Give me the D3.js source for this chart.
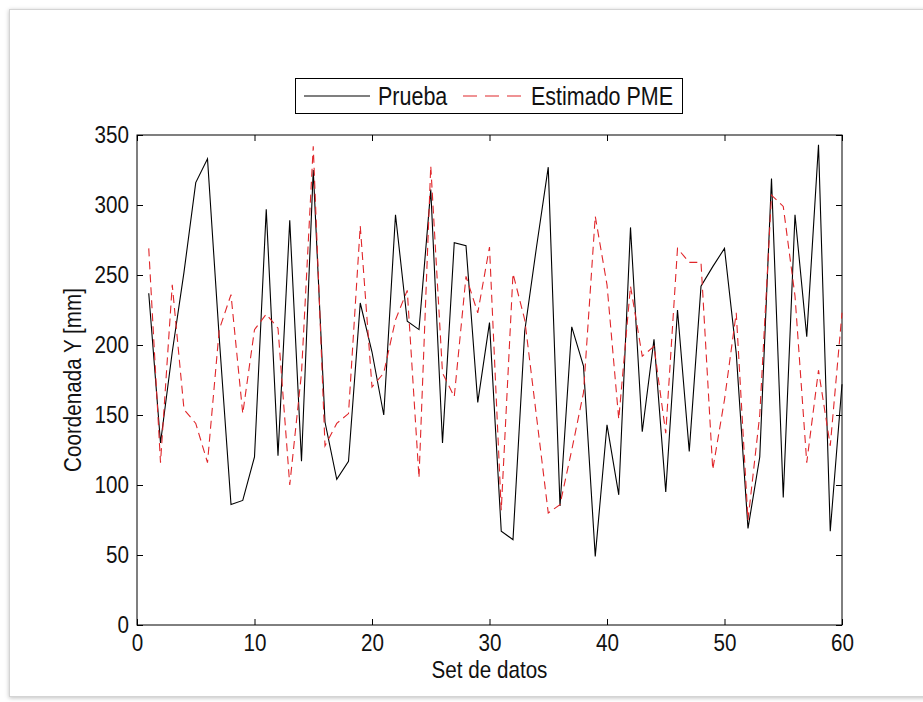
<!DOCTYPE html>
<html><head><meta charset="utf-8">
<script src="https://cdn.jsdelivr.net/npm/d3@7"></script>
<style>
html,body{margin:0;padding:0;background:#fff;}
svg text{font-family:"Liberation Sans",Arial,sans-serif;fill:#111;}
</style></head>
<body>
<svg id="chart" width="923" height="702"></svg>
<script>
const xValues = d3.range(1, 61);
const prueba = [237,130,195,252,316,333,205,86,89,120,
  297,121,289,117,325,145,104,117,230,195,
  150,293,217,211,311,130,273,271,159,216,
  67,61,210,270,327,85,213,185,49,143,
  93,284,138,204,95,225,124,242,256,269,
  194,69,120,319,91,293,206,343,67,172];
const estimado = [269,116,243,154,144,116,211,236,151,211,
  222,212,100,180,342,128,144,151,285,170,
  180,218,239,105,328,180,163,249,223,270,
  82,251,218,149,80,86,125,166,292,243,
  147,242,192,199,137,269,259,259,111,161,
  223,75,150,307,299,235,116,182,128,223];
const xTicks = [0,10,20,30,40,50,60];
const yTicks = [0,50,100,150,200,250,300,350];
const seriesNames = ["Prueba","Estimado PME"];

const SX = 0.86;   // horizontal condensing of text
const FS = 24;

const svg = d3.select("#chart");
const defs = svg.append("defs");
const f = defs.append("filter").attr("id","sh").attr("x","-5%").attr("y","-5%").attr("width","110%").attr("height","110%");
f.append("feDropShadow").attr("dx",0).attr("dy",1).attr("stdDeviation",2).attr("flood-color","#000").attr("flood-opacity",0.25);

svg.append("rect").attr("x",9.5).attr("y",9.5).attr("width",940).attr("height",687)
  .attr("fill","#fff").attr("stroke","#d4d4d4").attr("filter","url(#sh)");

const L = 137, R = 842, T = 135, B = 625;
const x = d3.scaleLinear().domain([0,60]).range([L,R]);
const y = d3.scaleLinear().domain([0,350]).range([B,T]);

const g = svg.append("g");
g.append("rect").attr("x",L).attr("y",T).attr("width",R-L).attr("height",B-T)
  .attr("fill","#fff").attr("stroke","#000").attr("stroke-width",1);

const ax = d3.axisBottom(x).tickValues(xTicks).tickSize(-6).tickPadding(9).tickFormat(d3.format("d"));
const ay = d3.axisLeft(y).tickValues(yTicks).tickSize(-6).tickPadding(8).tickFormat(d3.format("d"));
const axT = d3.axisTop(x).tickValues(xTicks).tickSize(-6).tickFormat("");
const ayR = d3.axisRight(y).tickValues(yTicks).tickSize(-6).tickFormat("");
function style(sel){
  sel.select(".domain").remove();
  sel.selectAll("line").attr("stroke","#000");
  sel.selectAll("text").attr("font-size",FS).attr("font-family",null)
    .each(function(){
      const t = d3.select(this);
      const xv = +t.attr("x") || 0;
      t.attr("x", xv / SX).attr("transform", `scale(${SX},1)`);
    });
}
g.append("g").attr("transform",`translate(0,${B})`).call(ax).call(style);
g.append("g").attr("transform",`translate(${L},0)`).call(ay).call(style);
g.append("g").attr("transform",`translate(0,${T})`).call(axT).call(style);
g.append("g").attr("transform",`translate(${R},0)`).call(ayR).call(style);

const line = d3.line().x((d,i)=>x(xValues[i])).y(d=>y(d));
g.append("path").datum(prueba).attr("d",line).attr("fill","none").attr("stroke","#000").attr("stroke-width",1.1);
g.append("path").datum(estimado).attr("d",line).attr("fill","none").attr("stroke","#e0262a").attr("stroke-width",1.1).attr("stroke-dasharray","8,5");

function label(px, py, txt, size, anchor, rot){
  const gg = svg.append("g").attr("transform", `translate(${px},${py})` + (rot ? ` rotate(${rot})` : ""));
  gg.append("text").attr("transform",`scale(${SX},1)`).attr("text-anchor",anchor).attr("font-size",size).text(txt);
}
label((L+R)/2, 678, "Set de datos", FS, "middle", 0);
label(81, (T+B)/2, "Coordenada Y [mm]", FS, "middle", -90);

// legend
const lg = svg.append("g");
lg.append("rect").attr("x",295.5).attr("y",78.5).attr("width",387).attr("height",35).attr("fill","#fff").attr("stroke","#000");
lg.append("line").attr("x1",304).attr("x2",370).attr("y1",96).attr("y2",96).attr("stroke","#000").attr("stroke-width",1.1);
label(378, 105, seriesNames[0], 25, "start", 0);
lg.append("line").attr("x1",463).attr("x2",525).attr("y1",96).attr("y2",96).attr("stroke","#e0262a").attr("stroke-width",1.1).attr("stroke-dasharray","14,8");
label(531, 105, seriesNames[1], 25, "start", 0);
</script>
</body></html>
